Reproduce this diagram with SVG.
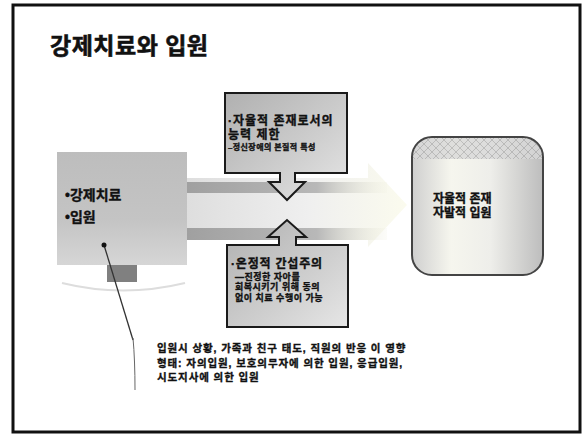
<svg xmlns="http://www.w3.org/2000/svg" width="583" height="434" viewBox="0 0 583 434">
<style>
text{font-family:"Liberation Sans","Noto Sans CJK KR",sans-serif;font-weight:bold;fill:#111;stroke:#111;stroke-width:0.35}
.title{stroke-width:0.6}
.box{stroke:#1a1a1a;stroke-width:2}
</style>
<defs>
<linearGradient id="gLeft" x1="0" y1="0" x2="0" y2="1">
<stop offset="0" stop-color="#bdbdbd"/><stop offset="0.6" stop-color="#c4c4c4"/><stop offset="1" stop-color="#d6d6d6"/>
</linearGradient>
<linearGradient id="gCall" x1="0" y1="0" x2="1" y2="1">
<stop offset="0" stop-color="#b0b0b0"/><stop offset="0.6" stop-color="#cfcfcf"/><stop offset="1" stop-color="#e6e6e6"/>
</linearGradient>
<linearGradient id="gArrow" x1="0" y1="0" x2="1" y2="0">
<stop offset="0" stop-color="#dedede"/><stop offset="0.55" stop-color="#efefef"/><stop offset="1" stop-color="#fbfbee"/>
</linearGradient>
<linearGradient id="gStripe" x1="0" y1="0" x2="1" y2="0">
<stop offset="0" stop-color="#a0a0a0"/><stop offset="0.65" stop-color="#b8b8b8"/><stop offset="1" stop-color="#f0f0e0" stop-opacity="0.2"/>
</linearGradient>
<linearGradient id="gRight" x1="0" y1="0" x2="1" y2="0">
<stop offset="0" stop-color="#cfcfcf"/><stop offset="0.3" stop-color="#f6f6ee"/><stop offset="0.6" stop-color="#eeeeea"/><stop offset="1" stop-color="#bdbdbd"/>
</linearGradient>
<pattern id="pChk" width="8" height="8" patternUnits="userSpaceOnUse">
<rect width="8" height="8" fill="#d8d8d8"/><path d="M0 0L4 4L0 8M8 0L4 4L8 8" stroke="#b0b0b0" stroke-width="1" fill="none"/>
</pattern>
<clipPath id="cRight"><rect x="412" y="137" width="131" height="138" rx="20"/></clipPath>
</defs>
<rect x="13" y="5" width="567" height="427" fill="#fff" stroke="#111" stroke-width="3"/>
<text class="title" x="50" y="54" font-size="23" letter-spacing="0.5">강제치료와 입원</text>

<g id="arrow-band">
<path d="M187 178 H368 L368 163 L407 205 L368 247 L368 240 H187 Z" fill="url(#gArrow)"/>
<rect x="187" y="182" width="200" height="11" fill="url(#gStripe)"/>
<rect x="187" y="228" width="200" height="12" fill="url(#gStripe)"/>
</g>

<g id="node-left">
<path d="M62 283 Q123 298 185 283" stroke="#ddd" stroke-width="2" fill="none"/>
<rect x="107" y="265" width="30" height="17" fill="#808080"/>
<rect x="57" y="152" width="130" height="113" fill="url(#gLeft)"/>
<text x="65" y="200" font-size="14">•강제치료</text>
<text x="65" y="222" font-size="14">•입원</text>
</g>

<g id="node-top">
<path class="box" d="M225 93 H347 V173 H295 V182 H305 L287 200 L269 182 H280 V173 H225 Z" fill="url(#gCall)"/>
<text x="228" y="125" font-size="12" letter-spacing="1">·자율적 존재로서의</text>
<text x="228" y="138.5" font-size="12" letter-spacing="1">능력 제한</text>
<text x="228" y="149.5" font-size="8" letter-spacing="0.4">–정신장애의 본질적 특성</text>
</g>

<g id="node-bottom">
<path class="box" d="M227 245 H279 V237 H268 L287 220 L306 237 H296 V245 H348 V327 H227 Z" fill="url(#gCall)"/>
<text x="231" y="268" font-size="12" letter-spacing="0.8">·온정적 간섭주의</text>
<text x="235" y="279.5" font-size="9" letter-spacing="0.5">—진정한 자아를</text>
<text x="235" y="290" font-size="9" letter-spacing="0.5">회복시키기 위해 동의</text>
<text x="235" y="300.5" font-size="9" letter-spacing="0.5">없이 치료 수행이 가능</text>
</g>

<g id="node-right">
<g clip-path="url(#cRight)">
<rect x="412" y="137" width="131" height="138" fill="url(#gRight)"/>
<rect x="412" y="137" width="131" height="22" fill="url(#pChk)" opacity="0.8"/>
</g>
<rect x="412" y="137" width="131" height="138" rx="20" fill="none" stroke="#444" stroke-width="2"/>
<text x="433" y="203" font-size="12">자율적 존재</text>
<text x="433" y="217" font-size="12">자발적 입원</text>
</g>

<g id="note">
<text x="157" y="352" font-size="10.5" letter-spacing="0.9">입원시 상황, 가족과 친구 태도, 직원의 반응 이 영향</text>
<text x="157" y="367" font-size="10.5" letter-spacing="0.9">형태: 자의입원, 보호의무자에 의한 입원, 응급입원,</text>
<text x="157" y="381" font-size="10.5" letter-spacing="0.9">시도지사에 의한 입원</text>
</g>

<g id="connectors">
<line x1="104" y1="245" x2="133" y2="340" stroke="#333" stroke-width="1.3"/>
<path d="M133 338 Q135 360 135 390" stroke="#666" stroke-width="1" fill="none"/>
<circle cx="104" cy="245" r="2.5" fill="#111"/>
</g>
</svg>
